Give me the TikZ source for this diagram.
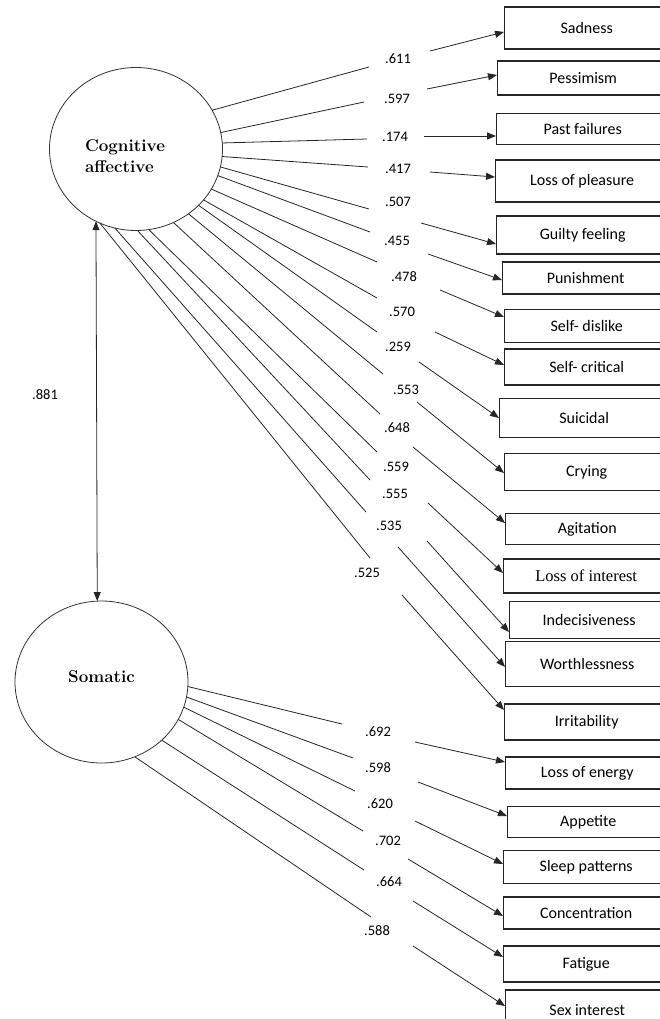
\documentclass[tikz,border=0pt]{standalone}
\usepackage{fontspec}
\newfontfamily\calfont{Carlito}
\newfontfamily\serfont{Liberation Serif}
\usetikzlibrary{shapes.geometric, arrows.meta, positioning, calc}

\tikzset{
  latent/.style={ellipse, draw=black!80, line width=0.8pt, minimum width=173pt, minimum height=163pt, inner sep=0pt, outer sep=0pt},
  latname/.style={font=\fontsize{17}{21}\selectfont\bfseries, align=left, inner sep=0pt},
  item/.style={draw=black!85, line width=1.4pt, anchor=west, inner sep=0pt, font=\calfont\fontsize{16}{19}\selectfont},
  coef/.style={font=\calfont\fontsize{14.5}{17}\selectfont, inner sep=0pt},
  link/.style={draw=black!85, line width=0.8pt},
  >={Triangle[length=9pt,width=7pt]}
}

\begin{document}
\begin{tikzpicture}[x=1pt, y=-1pt]
\useasboundingbox (0,0) rectangle (660,1019);
\clip (0,0) rectangle (660,1019);

% latent factors
\node[latent] (ca) at (136,149) {};
\node[latname] (catxt) at (125,156) {Cognitive\\affective};
\node[latent, minimum height=162pt] (so) at (101.5,682) {};
\node[latname] (sotxt) at (101.5,677) {Somatic};

\draw[link, <->] (ca.241.9) -- (so.93.2);
\node[coef] (r) at (45,395) {.881};

% observed items
\foreach \nm/\x/\y/\h/\txt in {sad/504/28/42/Sadness, pes/497/78/34/Pessimism,
  pas/496/129/31/Past failures, lop/495/181/42/Loss of pleasure,
  gui/496/235/38/Guilty feeling, pun/502/278/32/Punishment,
  sdi/504/326/33/Self- dislike, scr/504/367/36/Self- critical,
  sui/499/418/39/Suicidal, cry/504/472/37/Crying, agi/505/529/31/Agitation,
  ind/509/620/37/Indecisiveness, wor/505/664/45/Worthlessness,
  irr/504/722/36/Irritability, loe/505/773/32/Loss of energy,
  app/507/822/31/Appetite, slp/503/867/33/Sleep patterns,
  con/503/913/32/Concentration, fat/503/964/36/Fatigue, sex/505/1010/40/Sex interest} {
  \node[item, minimum width={668pt-\x pt}, minimum height=\h pt] (\nm) at (\x,\y) {\txt};
}
\node[item, font=\serfont\fontsize{16.5}{19}\selectfont, minimum width=165pt, minimum height=34pt] (loi) at (503,576) {Loss of interest};

% loadings, cognitive affective
\foreach \k/\ang/\val/\lx/\ly/\ex/\ey/\fx/\fy/\tgt/\dy in {
  1/27.5/.611/398/59/369/67/430/51/sad/-4,
  2/11.6/.597/397/99/364/102/427/89/pes/3,
  3/4.5/.174/395/137/367/139/424/136/pas/-7,
  4/355.6/.417/398/169/368/167/430/172/lop/4,
  5/348.3/.507/398/202/369/209/421/223/gui/-9,
  6/342.6/.455/397/241/370/232/428/254/pun/-2,
  7/332/.478/404/277/377/262/440/290/sdi/9,
  8/323.9/.570/402/312/377/298/435/332/scr/2,
  9/318.3/.259/398/347/377/332/419/362/sui/0,
  10/309.2/.553/406/390/383/374/417/402/cry/-1,
  11/297.6/.648/397/428/380/414/413/447/agi/6,
  12/279.3/.559/396/467/377/452/428/503/loi/3,
  13/271.4/.555/395/494/370/480/427/541/ind/-12,
  14/255.1/.535/389/526/366/512/398/547/wor/-3,
  15/244.4/.525/367/573/370/558/402/595/irr/12} {
  \node[coef] (c\k) at (\lx,\ly) {\val};
  \coordinate (ce\k) at (\ex,\ey);
  \coordinate (cf\k) at (\fx,\fy);
  \draw[link] (ca.\ang) -- (ce\k);
  \draw[link, ->] (cf\k) -- ([yshift=\dy pt]\tgt.west);
}

% loadings, somatic
\foreach \k/\ang/\val/\lx/\ly/\ex/\ey/\fx/\fy/\tgt/\dy in {
  1/357.4/.692/378/732/342/724/415/742/loe/11,
  2/350.4/.598/378/768/353/758/418/782/app/6,
  3/343.7/.620/380/804/355/791/415/821/slp/3,
  4/334.7/.702/388/841/363/831/408/859/con/-3,
  5/316.6/.664/389/882/364/870/413/901/fat/7,
  6/294.8/.588/377/931/371/917/413/946/sex/4} {
  \node[coef] (s\k) at (\lx,\ly) {\val};
  \coordinate (se\k) at (\ex,\ey);
  \coordinate (sf\k) at (\fx,\fy);
  \draw[link] (so.\ang) -- (se\k);
  \draw[link, ->] (sf\k) -- ([yshift=\dy pt]\tgt.west);
}
\end{tikzpicture}
\end{document}
